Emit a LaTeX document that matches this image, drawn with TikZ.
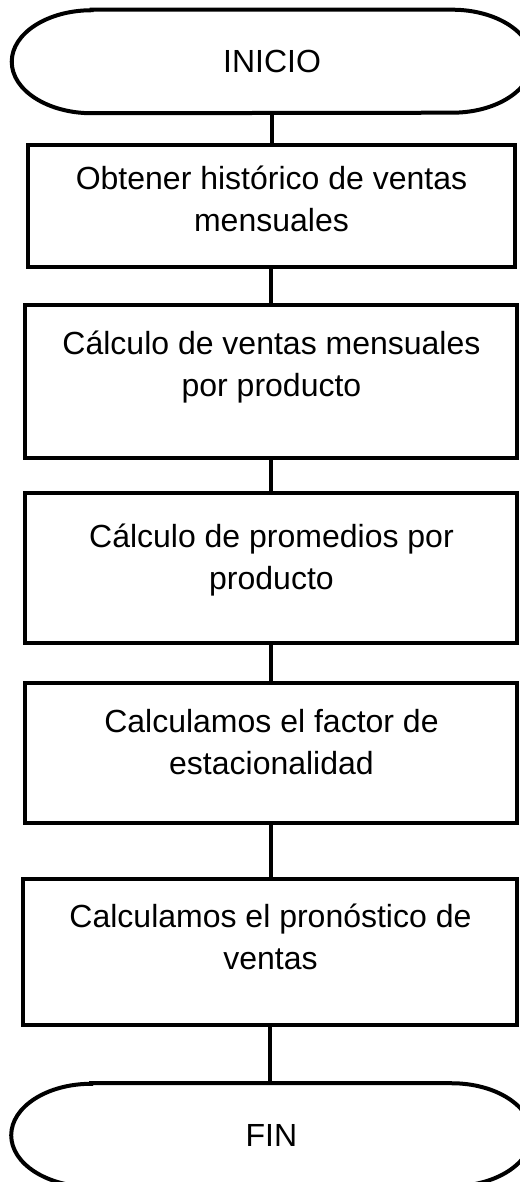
\documentclass[tikz,border=0pt]{standalone}
\usepackage{fontspec}
\setmainfont{Liberation Sans}
\usetikzlibrary{positioning}
\tikzset{
	paso/.style={draw,line width=3pt,minimum width=369pt,inner sep=0pt},
	terminal/.style={minimum width=390pt,minimum height=77.25pt,inner sep=0pt,font=\fontsize{24}{31.5}\selectfont},
	texto/.style={align=center,inner sep=0pt,font=\fontsize{24}{31.5}\selectfont},
	linea/.style={line width=3pt},
}
\begin{document}
\begin{tikzpicture}[]
	\useasboundingbox (0,0) rectangle (390pt,-886.5pt);
	%
	\node[terminal] (ini) at (204pt,-46.1pt) {INICIO};
	\node[paso,below of=ini,node distance=108.4pt,xshift=-0.4pt,minimum width=365.25pt,minimum height=91.5pt] (p1) {};
	\node[paso,below of=p1,node distance=131.6pt,minimum height=114.75pt] (p2) {};
	\node[paso,below of=p2,node distance=139.9pt,minimum height=112.5pt] (p3) {};
	\node[paso,below of=p3,node distance=138.75pt,minimum height=105pt] (p4) {};
	\node[paso,below of=p4,node distance=149.25pt,xshift=-0.75pt,minimum width=370.5pt,minimum height=109.5pt] (p5) {};
	\node[terminal,below of=p5,node distance=137.25pt,xshift=0.75pt] (fin) {FIN};
	%
	\node[texto,yshift=5.25pt] (t1) at (p1) {Obtener histórico de ventas\\mensuales};
	\node[texto,yshift=10.5pt] (t2) at (p2) {Cálculo de ventas mensuales\\por producto};
	\node[texto,yshift=6pt] (t3) at (p3) {Cálculo de promedios por\\producto};
	\node[texto,yshift=7.9pt] (t4) at (p4) {Calculamos el factor de\\estacionalidad};
	\node[texto,yshift=11.6pt] (t5) at (p5) {Calculamos el pronóstico de\\ventas};
	%
	\foreach \t in {ini,fin}
	\draw[linea] ([xshift=60pt]\t.north west) -- ([xshift=-60pt]\t.north east)
		arc[start angle=90,end angle=-90,x radius=60pt,y radius=38.625pt]
		-- ([xshift=60pt]\t.south west)
		arc[start angle=270,end angle=90,x radius=60pt,y radius=38.625pt] -- cycle;
	%
	\foreach \a/\b in {ini/p1,p1/p2,p2/p3,p3/p4,p4/p5,p5/fin}
	\draw[linea] (\a.south) -- (\a.south |- \b.north);
\end{tikzpicture}
\end{document}
